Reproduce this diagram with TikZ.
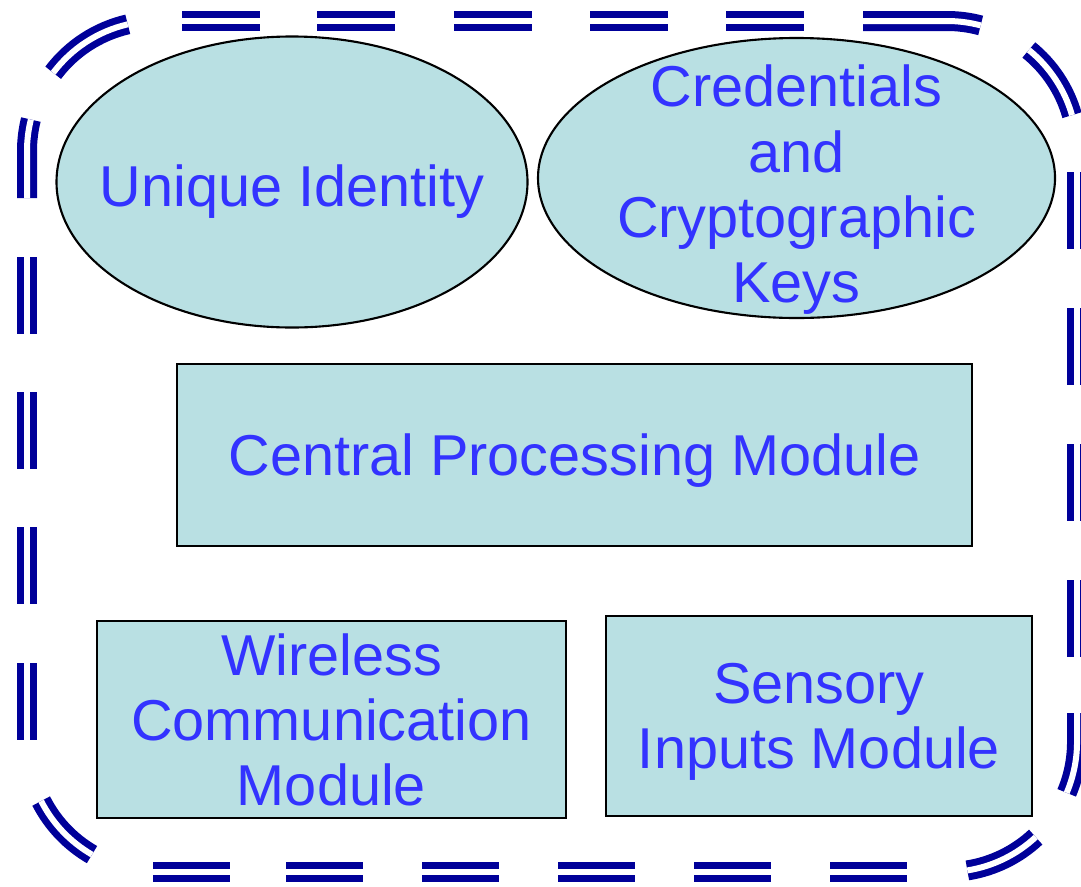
\documentclass[tikz,border=0pt]{standalone}
\usepackage{fontspec}
\setmainfont{Liberation Sans}
\usepackage{tikz}
\usetikzlibrary{shapes.geometric}
\definecolor{partfill}{RGB}{185,224,227}
\definecolor{parttext}{RGB}{51,51,255}
\definecolor{fencecol}{RGB}{0,0,153}

\begin{document}
\begin{tikzpicture}[x=1cm,y=1cm,
  fence/.style={draw=fencecol,line width=0.07cm,double=white,double distance=0.06cm},
  words/.style={text=parttext,align=center,text depth=0pt,
    font=\fontsize{16.4}{18.6}\selectfont,inner sep=0pt},
  oval/.style={ellipse,fill=partfill,draw=black,line width=0.6pt,inner sep=0pt},
  block/.style={words,rectangle,fill=partfill,draw=black,line width=0.7pt}]
\useasboundingbox (0,0) rectangle (10.81,-8.86);
% corner centres of the dashed boundary
\coordinate (tl) at (1.57,-1.51);
\coordinate (tr) at (9.47,-1.51);
\coordinate (bl) at (1.57,-7.42);
\coordinate (br) at (9.47,-7.42);
% top
\foreach \x in {1.82,3.17,4.54,5.90,7.26}
  \draw[fence] (\x,-0.21) -- ++(0.78,0);
\draw[fence] (8.63,-0.21) -- (9.47,-0.21) arc[start angle=90,end angle=75,radius=1.3];
\draw[fence] (tr) ++(16:1.3) arc[start angle=16,end angle=51,radius=1.3];
% right
\foreach \y in {1.72,3.08,4.44,5.80}
  \draw[fence] (10.77,-\y) -- ++(0,-0.77);
\draw[fence] (10.77,-7.13) -- (10.77,-7.42) arc[start angle=0,end angle=-23,radius=1.3];
\draw[fence] (br) ++(-47:1.3) arc[start angle=-47,end angle=-81,radius=1.3];
% bottom
\foreach \x in {1.53,2.86,4.22,5.58,6.94,8.30}
  \draw[fence] (\x,-8.72) -- ++(0.77,0);
\draw[fence] (bl) ++(207:1.3) arc[start angle=207,end angle=240,radius=1.3];
% left
\foreach \y in {2.57,3.92,5.27,6.63}
  \draw[fence] (0.27,-\y) -- ++(0,-0.77);
\draw[fence] (tl) ++(166:1.3) arc[start angle=166,end angle=180,radius=1.3] -- (0.27,-1.98);
\draw[fence] (tl) ++(143:1.3) arc[start angle=143,end angle=103,radius=1.3];
% parts
\node[oval,minimum width=4.71cm,minimum height=2.91cm,
  label={[words,yshift=-0.04cm]center:Unique Identity}] (uid) at (2.92,-1.82) {};
\node[oval,minimum width=5.17cm,minimum height=2.80cm,
  label={[words,yshift=-0.06cm]center:Credentials\\and\\Cryptographic\\Keys}] (keys) at (7.965,-1.78) {};
\node[block,minimum width=7.95cm,minimum height=1.82cm] (cpu) at (5.745,-4.55) {Central Processing Module};
\node[block,minimum width=4.69cm,minimum height=1.97cm] (radio) at (3.315,-7.195) {Wireless\\Communication\\Module};
\node[block,minimum width=4.26cm,minimum height=2.00cm] (sense) at (8.19,-7.16) {Sensory\\Inputs Module};
\end{tikzpicture}
\end{document}
